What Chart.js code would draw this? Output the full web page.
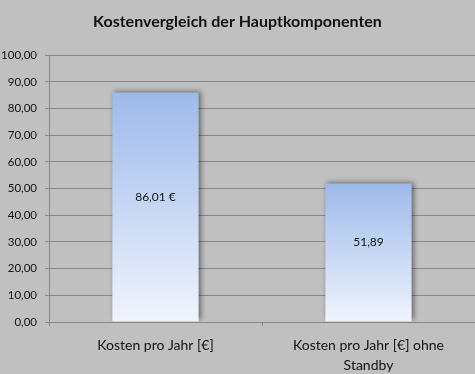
<!DOCTYPE html>
<html>
<head>
<meta charset="utf-8">
<script src="https://cdn.jsdelivr.net/npm/chart.js@4.4.1/dist/chart.umd.min.js"></script>
<style>
  html, body { margin: 0; padding: 0; background: #c0c0c0; }
  #wrap { width: 475px; height: 374px; }
</style>
</head>
<body>
<div id="wrap"><canvas id="chart" width="475" height="374"></canvas></div>
<script>
// data
const categories = ['Kosten pro Jahr [€]', ['Kosten pro Jahr [€] ohne', 'Standby']];
const costs = [86.01, 51.89];
const valueLabels = ['86,01 €', '51,89'];
const yTicks = [0, 10, 20, 30, 40, 50, 60, 70, 80, 90, 100];

const grid = '#878787';
const txt = '#111111';
const fnt = 'Lato';

// bar gradient, top to base of each bar
function barFill(c) {
  const chart = c.chart;
  if (!chart.chartArea || !c.parsed) return '#b8cdf2';
  const ys = chart.scales.y;
  const g = chart.ctx.createLinearGradient(0, ys.getPixelForValue(c.parsed.y), 0, ys.getPixelForValue(0));
  g.addColorStop(0, '#9dbaeb');
  g.addColorStop(1, '#f0f4fd');
  return g;
}

const barShadow = {
  id: 'barShadow',
  beforeDatasetDraw(chart) {
    const ctx = chart.ctx;
    ctx.save();
    ctx.shadowColor = 'rgba(0,0,0,0.45)';
    ctx.shadowBlur = 5;
    ctx.shadowOffsetX = 2;
    ctx.shadowOffsetY = -2;
  },
  afterDatasetDraw(chart) {
    chart.ctx.restore();
  },
};

const barLabels = {
  id: 'barLabels',
  afterDatasetsDraw(chart) {
    const ctx = chart.ctx;
    const meta = chart.getDatasetMeta(0);
    ctx.save();
    ctx.font = '12px ' + fnt;
    ctx.fillStyle = txt;
    ctx.textAlign = 'center';
    ctx.textBaseline = 'middle';
    meta.data.forEach((bar, i) => {
      const mid = (bar.y + bar.base) / 2 - 10;
      ctx.fillText(valueLabels[i], bar.x, mid);
    });
    ctx.restore();
  },
};

new Chart(document.getElementById('chart'), {
  type: 'bar',
  data: {
    labels: categories,
    datasets: [{
      data: costs,
      backgroundColor: barFill,
      borderWidth: 0,
      categoryPercentage: 1,
      barPercentage: 0.405,
    }],
  },
  plugins: [barShadow, barLabels],
  options: {
    responsive: false,
    animation: false,
    layout: { padding: { top: 0, right: 0, bottom: 0, left: 0 } },
    plugins: {
      legend: { display: false },
      tooltip: { enabled: false },
      title: {
        display: true,
        text: 'Kostenvergleich der Hauptkomponenten',
        color: txt,
        font: { family: fnt, size: 16, weight: 'bold', lineHeight: 1.2 },
        padding: { top: 12, bottom: 24 },
      },
    },
    scales: {
      x: {
        afterFit: s => { s.height = 52; },
        grid: { offset: true, drawOnChartArea: false, drawTicks: true, tickLength: 4, color: grid },
        border: { display: true, color: grid },
        ticks: {
          color: txt,
          font: { family: fnt, size: 14, lineHeight: 1.43 },
          padding: 9,
          maxRotation: 0,
        },
      },
      y: {
        min: 0,
        max: 100,
        afterFit: s => { s.width = 49; },
        afterBuildTicks: s => { s.ticks = yTicks.map(v => ({ value: v })); },
        grid: { color: grid, tickLength: 4 },
        border: { display: true, color: grid },
        ticks: {
          color: txt,
          font: { family: fnt, size: 11.5 },
          padding: 8,
          callback: v => v.toFixed(2).replace('.', ','),
        },
      },
    },
  },
});
</script>
</body>
</html>
